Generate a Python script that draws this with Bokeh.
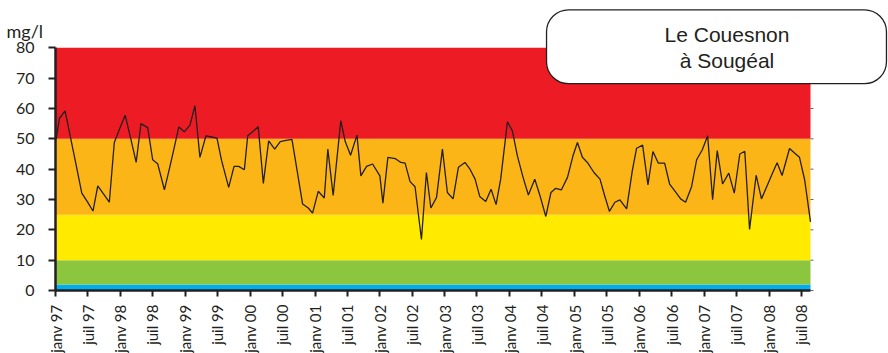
import pandas as pd
from math import pi
from bokeh.plotting import figure
from bokeh.models import Range1d, FixedTicker, BoxAnnotation, Label, ColumnDataSource
from bokeh.embed import file_html
from bokeh.resources import INLINE

# ---- data ----
dates = [
    "1997-01-05", "1997-01-23", "1997-02-24", "1997-03-27", "1997-04-27", "1997-05-29",
    "1997-06-30", "1997-07-31", "1997-08-27", "1997-09-29", "1997-10-31", "1997-11-28",
    "1997-12-28", "1998-01-28", "1998-03-01", "1998-03-31", "1998-04-27", "1998-06-04",
    "1998-07-02", "1998-07-30", "1998-09-06", "1998-10-04", "1998-10-31", "1998-11-26",
    "1998-12-27", "1999-01-28", "1999-02-25", "1999-03-25", "1999-04-28", "1999-05-29",
    "1999-06-29", "1999-07-25", "1999-09-03", "1999-10-03", "1999-10-29", "1999-11-30",
    "1999-12-19", "2000-01-16", "2000-02-16", "2000-03-16", "2000-04-15", "2000-05-19",
    "2000-06-19", "2000-07-22", "2000-08-24", "2000-09-23", "2000-10-23", "2000-11-24",
    "2000-12-18", "2001-01-19", "2001-02-22", "2001-03-14", "2001-04-13", "2001-05-26",
    "2001-06-20", "2001-07-20", "2001-08-25", "2001-09-16", "2001-10-18", "2001-11-21",
    "2002-01-01", "2002-01-18", "2002-02-15", "2002-03-28", "2002-04-29", "2002-05-23",
    "2002-06-20", "2002-07-18", "2002-08-23", "2002-09-20", "2002-10-15", "2002-11-16",
    "2002-12-19", "2003-01-16", "2003-02-17", "2003-03-19", "2003-04-25", "2003-05-24",
    "2003-06-21", "2003-07-17", "2003-08-20", "2003-09-19", "2003-10-17", "2003-11-12",
    "2003-12-20", "2004-01-17", "2004-02-14", "2004-03-17", "2004-04-16", "2004-05-22",
    "2004-06-19", "2004-07-23", "2004-08-21", "2004-09-17", "2004-10-19", "2004-11-22",
    "2004-12-23", "2005-01-17", "2005-02-14", "2005-03-14", "2005-04-20", "2005-05-24",
    "2005-06-19", "2005-07-16", "2005-08-16", "2005-09-13", "2005-10-21", "2005-11-22",
    "2005-12-16", "2006-01-19", "2006-02-18", "2006-03-18", "2006-04-17", "2006-05-23",
    "2006-06-20", "2006-07-18", "2006-08-21", "2006-09-18", "2006-10-22", "2006-11-19",
    "2006-12-21", "2007-01-20", "2007-02-17", "2007-03-15", "2007-04-14", "2007-05-19",
    "2007-06-19", "2007-07-20", "2007-08-17", "2007-09-13", "2007-10-20", "2007-11-19",
    "2007-12-19", "2008-01-18", "2008-02-15", "2008-03-14", "2008-04-25", "2008-05-23",
    "2008-06-20", "2008-07-19", "2008-08-21",
]
nitrates = [
    49.9, 56.7, 59.2, 50.3, 41.4, 32.1,
    29.2, 26.2, 34.5, 31.8, 29.1, 48.8,
    53.3, 57.8, 50.0, 42.2, 55.0, 53.7,
    43.1, 41.8, 33.2, 40.1, 47.0, 53.9,
    52.3, 54.5, 60.9, 43.9, 51.0, 50.6,
    50.2, 42.8, 34.0, 40.9, 40.9, 39.8,
    51.0, 52.3, 54.0, 35.3, 49.3, 46.6,
    49.1, 49.5, 49.8, 39.2, 28.5, 27.2,
    25.5, 32.7, 30.5, 46.6, 31.3, 56.0,
    49.1, 44.6, 51.2, 37.8, 40.9, 41.7,
    37.8, 28.8, 43.9, 43.5, 42.2, 42.0,
    35.9, 34.2, 16.8, 38.9, 27.2, 30.7,
    46.6, 32.3, 30.2, 40.6, 42.2, 39.9,
    36.7, 31.0, 29.3, 33.4, 28.3, 36.7,
    55.6, 52.6, 44.4, 37.3, 31.5, 36.7,
    31.5, 24.4, 32.3, 33.7, 33.2, 37.3,
    44.4, 48.8, 43.9, 42.2, 38.9, 36.7,
    31.3, 26.1, 29.1, 29.9, 26.9, 39.5,
    46.9, 47.9, 34.8, 45.8, 42.0, 42.0,
    35.1, 32.9, 30.2, 29.1, 34.3, 43.1,
    46.4, 51.0, 29.9, 46.1, 35.1, 38.7,
    32.1, 45.0, 45.9, 20.1, 38.0, 30.2,
    34.3, 38.4, 42.1, 37.9, 46.8, 45.3,
    43.9, 36.5, 22.6,
]
tick_labels = [
    "janv 97", "juil 97", "janv 98", "juil 98", "janv 99", "juil 99",
    "janv 00", "juil 00", "janv 01", "juil 01", "janv 02", "juil 02",
    "janv 03", "juil 03", "janv 04", "juil 04", "janv 05", "juil 05",
    "janv 06", "juil 06", "janv 07", "juil 07", "janv 08", "juil 08",
]
tick_dates = [
    "1997-01-01", "1997-07-01", "1998-01-01", "1998-07-01", "1999-01-01", "1999-07-01",
    "2000-01-01", "2000-07-01", "2001-01-01", "2001-07-01", "2002-01-01", "2002-07-01",
    "2003-01-01", "2003-07-01", "2004-01-01", "2004-07-01", "2005-01-01", "2005-07-01",
    "2006-01-01", "2006-07-01", "2007-01-01", "2007-07-01", "2008-01-01", "2008-07-01",
]
y_ticks = [0, 10, 20, 30, 40, 50, 60, 70, 80]
band_bottoms = [0, 2, 10, 25, 50]
band_tops = [2, 10, 25, 50, 80]
band_colors = ["#00AEEF", "#8CC63F", "#FFEA00", "#FBB516", "#ED1C24"]
x_start, x_end = "1997-01-01", "2008-08-21"
y_max = 80
unit_text = "mg/l"
station_text = "Le Couesnon\nà Sougéal"

TXT = "#231F20"
FONT = "Lato"

# ---- layout (pixels) ----
W, H = 888, 353
PLOT_L, PLOT_R, PLOT_T, PLOT_B = 55, 810, 47.3, 290   # coloured plot area on the page

def ms(d):
    return float(pd.Timestamp(d).value // 10**6)

x0, x1 = ms(x_start), ms(x_end)
px_per_ms = (PLOT_R - PLOT_L) / (x1 - x0)
x_near = x0 - PLOT_L / px_per_ms
x_far = x1 + (W - PLOT_R) / px_per_ms
px_per_unit = (PLOT_B - PLOT_T) / y_max
y_far = PLOT_B / px_per_unit
y_near = -(H - PLOT_B) / px_per_unit

src = ColumnDataSource(dict(x=pd.to_datetime(dates), y=nitrates))

# the frame covers the whole canvas; both axes are pinned inside it
p = figure(width=W, height=H, x_axis_type="datetime",
           x_range=Range1d(x_near, x_far), y_range=Range1d(y_near, y_far),
           output_backend="svg", toolbar_location=None,
           min_border_left=0, min_border_right=0, min_border_top=0, min_border_bottom=0)
p.grid.visible = False
p.outline_line_color = None
p.background_fill_color = "white"
p.border_fill_color = "white"

for b, t, c in zip(band_bottoms, band_tops, band_colors):
    p.add_layout(BoxAnnotation(left=x0, right=x1, bottom=b, top=t, fill_color=c,
                               fill_alpha=1.0, line_color=None, level="underlay"))

p.line("x", "y", source=src, line_color=TXT, line_width=1.3)

# small outward ticks on the right edge of the coloured area
tick_len = 3 / px_per_ms
p.segment(x0=[x1] * len(y_ticks), x1=[x1 + tick_len] * len(y_ticks),
          y0=y_ticks, y1=y_ticks, line_color="#666666", line_width=1)

# bottom axis, pinned at 0
tick_ms = [ms(d) for d in tick_dates]
xa = p.xaxis[0]
xa.fixed_location = 0
xa.bounds = (x0, x1)
xa.ticker = FixedTicker(ticks=tick_ms)
xa.major_label_overrides = {t: l for t, l in zip(tick_ms, tick_labels)}
xa.major_label_orientation = pi / 2
xa.major_label_text_font = FONT
xa.major_label_text_font_size = "15px"
xa.major_label_text_color = TXT
xa.major_label_standoff = 8
xa.major_tick_out = 6
xa.major_tick_in = 0
xa.major_tick_line_width = 2
xa.major_tick_line_color = TXT
xa.minor_tick_line_color = None
xa.axis_line_width = 2.5
xa.axis_line_color = TXT

# left axis, pinned at the start of the series
ya = p.yaxis[0]
ya.fixed_location = x0
ya.bounds = (0, y_max)
ya.ticker = FixedTicker(ticks=y_ticks)
ya.major_label_text_font = FONT
ya.major_label_text_font_size = "16px"
ya.major_label_text_color = TXT
ya.major_label_standoff = 14
ya.major_tick_out = 7
ya.major_tick_in = 0
ya.major_tick_line_width = 2
ya.major_tick_line_color = TXT
ya.minor_tick_line_color = None
ya.axis_line_width = 2.5
ya.axis_line_color = TXT

# unit text
p.add_layout(Label(x=6, y=H - 30, x_units="screen", y_units="screen", text=unit_text,
                   text_font=FONT, text_font_size="18px", text_color=TXT,
                   text_align="left", text_baseline="alphabetic"))

# station name in a rounded box
box_l, box_r, box_t, box_b = 545, 887, 8.5, 84
p.add_layout(Label(x=(box_l + box_r) / 2, y=H - (box_t + box_b) / 2,
                   x_units="screen", y_units="screen", text=station_text,
                   text_font="Liberation Sans", text_font_size="21px", text_color=TXT,
                   text_align="center", text_baseline="middle", text_line_height=1.12,
                   background_fill_color="white", border_line_color=TXT,
                   border_line_width=1.3, border_radius=22,
                   padding=dict(left=118, right=97, top=13, bottom=12)))

open("out.html", "w").write(file_html(p, INLINE))
